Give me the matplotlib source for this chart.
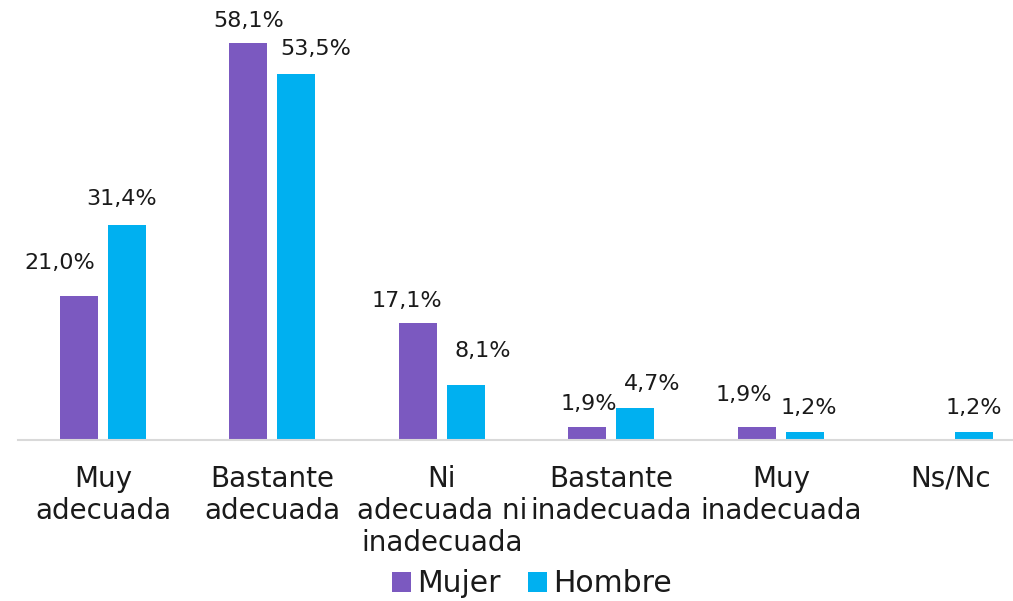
import numpy as np
import matplotlib.pyplot as plt

categorias = ["Muy\nadecuada", "Bastante\nadecuada", "Ni\nadecuada ni\ninadecuada",
              "Bastante\ninadecuada", "Muy\ninadecuada", "Ns/Nc"]
mujer = [21.0, 58.1, 17.1, 1.9, 1.9, 0.0]
hombre = [31.4, 53.5, 8.1, 4.7, 1.2, 1.2]

col_mujer = "#7B59C0"
col_hombre = "#00B0F0"
col_texto = "#1a1a1a"

# desplazamientos de etiquetas (en puntos), como los coloca Excel
off_mujer = [(-14, 17), (0, 9), (-8, 9), (1, 9), (-9, 16), (0, 0)]
off_hombre = [(-4, 12), (14, 11), (12, 17), (12, 10), (3, 10), (0, 10)]

fig = plt.figure(figsize=(10.13, 6.01), dpi=100)
ax = fig.add_axes([0.018, 0.268, 0.982, 0.682])

x = np.arange(len(categorias))
w = 0.224
d = 0.1416
b1 = ax.bar(x - d, mujer, w, color=col_mujer, label="Mujer")
b2 = ax.bar(x + d, hombre, w, color=col_hombre, label="Hombre")

def fmt(v):
    return f"{v:.1f}%".replace(".", ",")

for barras, vals, offs in [(b1, mujer, off_mujer), (b2, hombre, off_hombre)]:
    for rect, v, o in zip(barras, vals, offs):
        if v <= 0:
            continue
        ax.annotate(fmt(v), (rect.get_x() + rect.get_width() / 2, v),
                    xytext=o, textcoords="offset points", annotation_clip=False,
                    ha="center", va="bottom", fontsize=16, color=col_texto)

ax.set_xlim(-0.5, -0.5 + 995 / 169.5)
ax.set_ylim(0, 60)
ax.set_yticks([])
ax.set_xticks(x)
ax.set_xticklabels(categorias, fontsize=20, color=col_texto, linespacing=1.18)
ax.tick_params(axis="x", length=0, pad=18)
for s in ["top", "right", "left"]:
    ax.spines[s].set_visible(False)
ax.spines["bottom"].set_color("#D9D9D9")
ax.spines["bottom"].set_linewidth(1.5)

fig.legend(loc="lower center", bbox_to_anchor=(0.525, -0.04), ncol=2, frameon=False,
           fontsize=21.5, handlelength=0.65, handleheight=0.65, handletextpad=0.2,
           columnspacing=0.9, labelcolor=col_texto)

fig.savefig("out.png", dpi=100)
